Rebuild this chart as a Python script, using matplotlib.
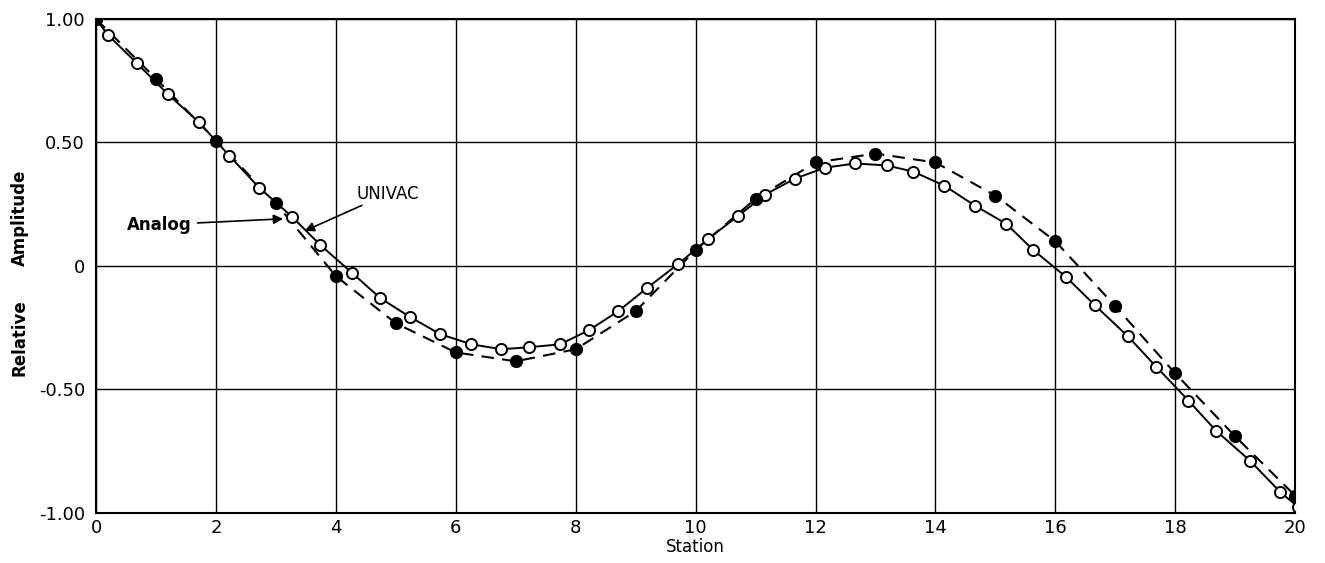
import matplotlib.pyplot as plt

# ---------------------------------------------------------------
# Data
univac_station = list(range(0, 21))
univac_amp = [1.00, 0.758, 0.508, 0.254, -0.041, -0.232, -0.350, -0.386, -0.337,
              -0.183, 0.065, 0.272, 0.419, 0.455, 0.419, 0.285, 0.100, -0.163,
              -0.435, -0.690, -0.930]

analog_station = [0.0, 0.20, 0.68, 1.20, 1.72, 2.22, 2.72, 3.27, 3.74, 4.27, 4.74,
                  5.24, 5.74, 6.26, 6.76, 7.22, 7.74, 8.22, 8.71, 9.19, 9.71,
                  10.21, 10.71, 11.16, 11.66, 12.16, 12.66, 13.19, 13.63, 14.15,
                  14.66, 15.18, 15.63, 16.18, 16.66, 17.21, 17.68, 18.22, 18.68,
                  19.25, 19.75, 20.05]
analog_amp = [1.00, 0.935, 0.821, 0.695, 0.581, 0.447, 0.317, 0.199, 0.085, -0.028,
              -0.130, -0.207, -0.276, -0.317, -0.337, -0.329, -0.317, -0.260,
              -0.183, -0.089, 0.008, 0.110, 0.203, 0.289, 0.354, 0.398, 0.415,
              0.407, 0.382, 0.325, 0.244, 0.171, 0.065, -0.045, -0.159, -0.285,
              -0.407, -0.545, -0.667, -0.789, -0.915, -0.976]

x_ticks = list(range(0, 21, 2))
y_ticks = [1.0, 0.5, 0.0, -0.5, -1.0]
y_tick_labels = ["1.00", "0.50", "0", "-0.50", "-1.00"]

# ---------------------------------------------------------------
# Figure
fig = plt.figure(figsize=(13.25, 5.63), dpi=100)
ax = fig.add_axes([0.0725, 0.0888, 0.905, 0.8775])

ax.set_xlim(0, 20)
ax.set_ylim(-1.0, 1.0)

# grid
for x in x_ticks:
    ax.axvline(x, color="black", linewidth=1.0, zorder=1)
for y in y_ticks:
    ax.axhline(y, color="black", linewidth=1.0, zorder=1)

# UNIVAC: dashed curve with filled dots
ax.plot(univac_station, univac_amp, color="black", linewidth=1.5,
        linestyle=(0, (6, 4)), zorder=2)
# Analog: solid curve with open dots
ax.plot(analog_station, analog_amp, color="black", linewidth=1.4,
        marker="o", markersize=8, markerfacecolor="white",
        markeredgecolor="black", markeredgewidth=1.4, zorder=3)
ax.plot(univac_station, univac_amp, linestyle="none", marker="o",
        markersize=8.5, color="black", zorder=4)

# Axis's
ax.set_xticks(x_ticks)
ax.set_xticklabels([str(x) for x in x_ticks])
ax.set_yticks(y_ticks)
ax.set_yticklabels(y_tick_labels)
ax.tick_params(length=0, labelsize=13)
ax.tick_params(axis="x", pad=4)
ax.tick_params(axis="y", pad=8)
for s in ax.spines.values():
    s.set_linewidth(1.5)

ax.set_xlabel("Station", fontsize=12, labelpad=1)
fig.text(0.015, 0.613, "Amplitude", rotation=90, fontsize=12,
         fontweight="bold", ha="center", va="center")
fig.text(0.015, 0.401, "Relative", rotation=90, fontsize=12,
         fontweight="bold", ha="center", va="center")

# annotations
ax.annotate("Analog", xy=(3.12, 0.191), xytext=(1.6, 0.167),
            fontsize=12, fontweight="bold", ha="right", va="center",
            arrowprops=dict(arrowstyle="-|>", color="black", lw=1.2,
                            mutation_scale=14, shrinkA=2, shrinkB=0))
ax.annotate("UNIVAC", xy=(3.48, 0.142), xytext=(4.35, 0.293),
            fontsize=12, ha="left", va="center",
            arrowprops=dict(arrowstyle="-|>", color="black", lw=1.2,
                            mutation_scale=14, shrinkA=0, shrinkB=0))

plt.savefig("out.png", dpi=100)
plt.close()
